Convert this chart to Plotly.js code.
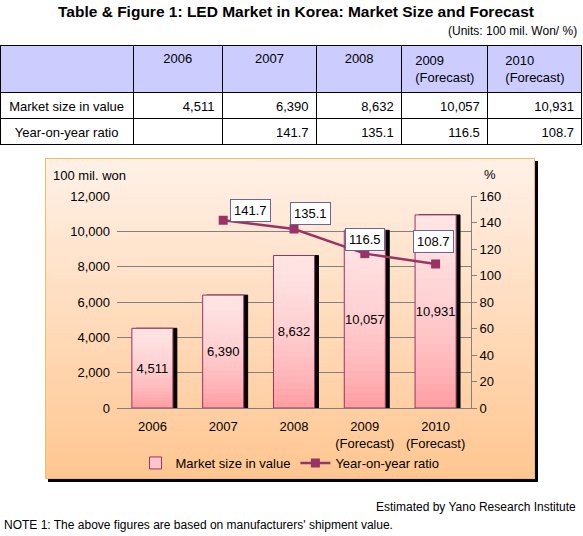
<!DOCTYPE html>
<html>
<head>
<meta charset="utf-8">
<script src="https://cdn.plot.ly/plotly-3.0.1.min.js"></script>
<style>
html,body{margin:0;padding:0;background:#fff;}
#chart{width:583px;height:536px;}
</style>
</head>
<body>
<div id="chart"></div>
<script>
// ---- data ----
var years = ['2006', '2007', '2008', '2009', '2010'];
var categories = ['2006', '2007', '2008', '2009<br>(Forecast)', '2010<br>(Forecast)'];
var tableHeader = ['', '2006', '2007', '2008', '2009<br>(Forecast)', '2010<br>(Forecast)'];
var rowLabels = ['Market size in value', 'Year-on-year ratio'];
var marketSize = [4511, 6390, 8632, 10057, 10931];
var yoyRatio = [null, 141.7, 135.1, 116.5, 108.7];
var leftTicks = [0, 2000, 4000, 6000, 8000, 10000, 12000];
var rightTicks = [0, 20, 40, 60, 80, 100, 120, 140, 160];

// ---- helpers ----
var W = 583, H = 536;
function px(x) { return x / W; }
function py(y) { return 1 - y / H; }
var FONT = '"Liberation Sans", Arial, sans-serif';
var PURPLE = '#993366';
var NBSP = '\u00a0';

var xIdx = categories.map(function (c, i) { return i; });

var BW = 0.58;            // bar width (category units)
var OFF = -BW / 2;
var SHADOW = 0.055;

var traces = [];

// table
var fmtNum = function (v) { return v == null ? '' : v.toLocaleString('en-US'); };
var fmtPct = function (v) { return v == null ? '' : v.toFixed(1); };
var tableCols = [rowLabels.map(function (s) { return s.split(' ').join(NBSP); })];
for (var i = 0; i < years.length; i++) {
  tableCols.push([fmtNum(marketSize[i]), fmtPct(yoyRatio[i])]);
}
traces.push({
  type: 'table',
  domain: { x: [0, px(582)], y: [py(150), py(45)] },
  columnwidth: [133, 89, 94, 85, 86, 94],
  header: {
    values: tableHeader,
    fill: { color: '#CCCCFF' },
    line: { color: '#000000', width: 1 },
    align: 'center',
    height: 35,
    font: { family: FONT, size: 13, color: '#000' }
  },
  cells: {
    values: tableCols,
    fill: { color: '#FFFFFF' },
    line: { color: '#000000', width: 1 },
    align: ['center', 'right', 'right', 'right', 'right', 'right'],
    height: 26,
    font: { family: FONT, size: 13, color: '#000' }
  }
});

// bar shadow (drawn first, shifted right)
traces.push({
  type: 'bar', x: xIdx, y: marketSize, width: BW, offset: OFF + SHADOW,
  marker: { color: '#000000', opacity: 1, line: { color: '#000000', width: 1 } },
  showlegend: false, hoverinfo: 'skip'
});
// base bar (bottom colour)
traces.push({
  type: 'bar', x: xIdx, y: marketSize, width: BW, offset: OFF,
  marker: { color: '#FF9EA3', line: { width: 0 } },
  showlegend: false, hoverinfo: 'skip'
});
// gradient overlays (lighter toward top)
var N = 24;
for (var k = 1; k < N; k++) {
  (function (k) {
    traces.push({
      type: 'bar', x: xIdx,
      base: marketSize.map(function (v) { return v * k / N; }),
      y: marketSize.map(function (v) { return v * (1 - k / N); }),
      width: BW, offset: OFF,
      marker: { color: 'rgba(255,255,255,0.062)', line: { width: 0 } },
      showlegend: false, hoverinfo: 'skip'
    });
  })(k);
}
// outline + labels
traces.push({
  type: 'bar', name: 'Market size in value', x: xIdx, y: marketSize,
  width: BW, offset: OFF,
  marker: { color: 'rgba(0,0,0,0)', line: { color: PURPLE, width: 1 } },
  text: marketSize.map(fmtNum), textposition: 'inside', insidetextanchor: 'middle',
  textangle: 0, constraintext: 'none',
  textfont: { family: FONT, size: 13, color: '#000' },
  hoverinfo: 'skip', showlegend: false
});
// legend proxy for bar
traces.push({
  type: 'bar', name: 'Market size in value', x: [0], y: [null],
  marker: { color: '#FFC4CC', line: { color: PURPLE, width: 1 } },
  showlegend: true, hoverinfo: 'skip'
});
// line
traces.push({
  type: 'scatter', mode: 'lines+markers', name: 'Year-on-year ratio',
  x: xIdx, y: yoyRatio, yaxis: 'y2',
  line: { color: PURPLE, width: 2.5 },
  marker: { symbol: 'square', size: 9, color: PURPLE },
  hoverinfo: 'skip'
});

var labelOffsets = [null, [27, -10], [16, -15], [0, -14], [-2, -22]];
var annotations = [];
for (var j = 0; j < categories.length; j++) {
  if (yoyRatio[j] == null) continue;
  annotations.push({
    x: xIdx[j], y: yoyRatio[j], xref: 'x', yref: 'y2',
    text: fmtPct(yoyRatio[j]), showarrow: true, arrowcolor: 'rgba(0,0,0,0)',
    ax: labelOffsets[j][0], ay: labelOffsets[j][1],
    bgcolor: '#FFFFFF', bordercolor: '#666699', borderwidth: 1, borderpad: 3,
    font: { family: FONT, size: 13, color: '#000' }
  });
}
annotations.push(
  { xref: 'paper', yref: 'paper', x: px(296), y: py(11), text: '<b>Table &amp; Figure 1: LED Market in Korea: Market Size and Forecast</b>',
    showarrow: false, xanchor: 'center', yanchor: 'middle', font: { family: FONT, size: 15.5, color: '#000' } },
  { xref: 'paper', yref: 'paper', x: px(579), y: py(31), text: '(Units: 100 mil. Won/ %)',
    showarrow: false, xanchor: 'right', yanchor: 'middle', font: { family: FONT, size: 12, color: '#000' } },
  { xref: 'paper', yref: 'paper', x: px(51), y: py(175), text: '100 mil. won',
    showarrow: false, xanchor: 'left', yanchor: 'middle', font: { family: FONT, size: 13, color: '#000' } },
  { xref: 'paper', yref: 'paper', x: px(490), y: py(174), text: '%',
    showarrow: false, xanchor: 'center', yanchor: 'middle', font: { family: FONT, size: 13, color: '#000' } },
  { xref: 'paper', yref: 'paper', x: px(578), y: py(507), text: 'Estimated by Yano Research Institute',
    showarrow: false, xanchor: 'right', yanchor: 'middle', font: { family: FONT, size: 12, color: '#000' } },
  { xref: 'paper', yref: 'paper', x: px(2), y: py(525), text: "NOTE 1: The above figures are based on manufacturers' shipment value.",
    showarrow: false, xanchor: 'left', yanchor: 'middle', font: { family: FONT, size: 12, color: '#000' } }
);

// chart box background (gradient + shadow)
var svg = '<svg xmlns="http://www.w3.org/2000/svg" width="493" height="324" viewBox="0 0 493 324">' +
  '<defs><linearGradient id="g" x1="0" y1="0" x2="0" y2="1">' +
  '<stop offset="0" stop-color="#FFF1E8"/><stop offset="1" stop-color="#FFC690"/></linearGradient></defs>' +
  '<rect x="3" y="3" width="490" height="321" fill="#000"/>' +
  '<rect x="0.5" y="0.5" width="489" height="320" fill="url(#g)" stroke="#F0C060" stroke-width="1"/>' +
  '</svg>';
var bgImage = {
  source: 'data:image/svg+xml;charset=utf-8,' + encodeURIComponent(svg),
  xref: 'paper', yref: 'paper', x: px(45), y: py(158), sizex: px(493), sizey: 324 / H,
  xanchor: 'left', yanchor: 'top', sizing: 'stretch', layer: 'below'
};

var layout = {
  width: W, height: H,
  margin: { l: 0, r: 0, t: 0, b: 0, pad: 0 },
  paper_bgcolor: '#FFFFFF', plot_bgcolor: '#FFFFFF',
  font: { family: FONT, size: 13, color: '#000' },
  barmode: 'overlay',
  showlegend: true,
  legend: {
    orientation: 'h', x: px(290), xanchor: 'center', y: py(463), yanchor: 'middle',
    bgcolor: 'rgba(0,0,0,0)', font: { family: FONT, size: 13, color: '#000' },
    itemwidth: 30, tracegroupgap: 0
  },
  xaxis: {
    domain: [px(117), px(471)], type: 'linear', range: [-0.5, 4.5],
    tickvals: xIdx, ticktext: categories,
    showline: true, linecolor: '#808080', linewidth: 1,
    ticks: '', showgrid: false, zeroline: false,
    ticklabelstandoff: 6,
    tickfont: { family: FONT, size: 13, color: '#000' }, fixedrange: true
  },
  yaxis: {
    domain: [py(408), py(196)], range: [0, 12000], tickvals: leftTicks, tickformat: ',',
    showgrid: true, gridcolor: '#808080', gridwidth: 1, zeroline: false,
    showline: false, ticks: '', ticklabelstandoff: 6,
    tickfont: { family: FONT, size: 13, color: '#000' }, fixedrange: true
  },
  yaxis2: {
    overlaying: 'y', side: 'right', range: [0, 160], tickvals: rightTicks,
    showgrid: false, zeroline: false, showline: true, linecolor: '#808080', linewidth: 1,
    ticks: 'outside', ticklen: 5, tickcolor: '#808080',
    tickfont: { family: FONT, size: 13, color: '#000' }, fixedrange: true
  },
  annotations: annotations,
  images: [bgImage]
};

Plotly.newPlot('chart', traces, layout, { displayModeBar: false, staticPlot: true });
</script>
</body>
</html>
